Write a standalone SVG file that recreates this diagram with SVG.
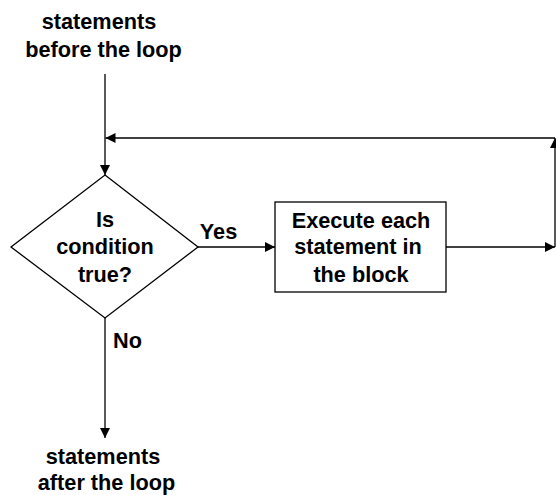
<svg xmlns="http://www.w3.org/2000/svg" width="556" height="495" viewBox="0 0 556 495">
<defs>
<marker id="ah" viewBox="0 0 10 10" refX="10" refY="5" markerWidth="10" markerHeight="10" markerUnits="userSpaceOnUse" orient="auto">
<path d="M0,0 L10,5 L0,10 Z" fill="#000"/>
</marker>
</defs>
<style>
text{font-family:"Liberation Sans",Arial,sans-serif;font-weight:bold;font-size:21.7px;fill:#000;text-anchor:middle}
.ln{fill:none;stroke:#000;stroke-width:1.3}
.sh{fill:#fff;stroke:#000;stroke-width:1.3}
</style>
<rect width="556" height="495" fill="#fff"/>
<g id="start">
<text x="99" y="29">statements</text>
<text x="103.5" y="57">before the loop</text>
</g>
<g id="decision">
<polygon class="sh" points="105,175 198,247 105,318 11,247"/>
<text x="105" y="227">Is</text>
<text x="105" y="254">condition</text>
<text x="105" y="282">true?</text>
</g>
<g id="block">
<rect class="sh" x="275" y="202" width="171" height="90"/>
<text x="361" y="228">Execute each</text>
<text x="358" y="254">statement in</text>
<text x="361" y="282">the block</text>
</g>
<g id="end">
<text x="103" y="464">statements</text>
<text x="106.5" y="490">after the loop</text>
</g>
<g id="connectors">
<line class="ln" x1="105" y1="74" x2="105" y2="175" marker-end="url(#ah)"/>
<line class="ln" x1="198" y1="247" x2="275" y2="247" marker-end="url(#ah)"/>
<line class="ln" x1="446" y1="247" x2="555" y2="247" marker-end="url(#ah)" stroke="#555"/>
<line class="ln" x1="555" y1="247" x2="555" y2="138" stroke="#bbb" marker-end="url(#ah)"/>
<line class="ln" x1="555" y1="138" x2="105.5" y2="138" stroke="#444" marker-end="url(#ah)"/>
<line class="ln" x1="105" y1="318" x2="105" y2="438" marker-end="url(#ah)"/>
<text x="218.5" y="239">Yes</text>
<text x="127.5" y="348">No</text>
</g>
</svg>
